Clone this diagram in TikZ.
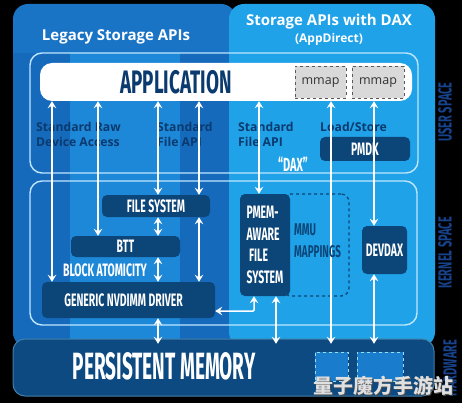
\documentclass[tikz,border=0pt]{standalone}
\usepackage{fontspec}
\setmainfont{Open Sans}
\newfontfamily\condf{Fira Sans}[FakeStretch=0.58]
\newfontfamily\condn{Fira Sans}[FakeStretch=0.5]
\newfontfamily\cjkf{Noto Sans CJK SC}
\usetikzlibrary{arrows.meta}
\definecolor{leftbase}{HTML}{1A74C6}
\definecolor{stripeA}{HTML}{166ABC}
\definecolor{stripeB}{HTML}{1E88D8}
\definecolor{rightbase}{HTML}{1FA2E8}
\definecolor{navy}{HTML}{0C4578}
\definecolor{pmcol}{HTML}{0D4A82}
\definecolor{labdark}{HTML}{0B3A6E}
\definecolor{framecol}{HTML}{BFE6FF}
\definecolor{sidecol}{HTML}{17428C}
\definecolor{pmbox}{HTML}{1A7CCC}
\tikzset{
  condtxt/.style={font=\condf\bfseries\fontsize{18}{21.5}\selectfont, text=white, inner sep=0pt},
  navybox/.style={fill=navy, rounded corners=5pt, inner sep=0pt, condtxt},
  frameline/.style={draw=framecol, line width=1.4pt, rounded corners=12pt},
  lbl/.style={font=\bfseries\fontsize{12.2}{15}\selectfont, text=labdark, align=left, inner sep=0pt, anchor=north west},
  titletxt/.style={font=\bfseries\fontsize{15}{17}\selectfont, text=white, inner sep=0pt},
  bidir/.style={draw=white, line width=1.5pt, {Stealth[length=7pt,width=8.5pt,inset=2.5pt]}-{Stealth[length=7pt,width=8.5pt,inset=2.5pt]}},
  mmapbox/.style={fill=black!15, draw=black!65, dashed, line width=0.9pt, minimum width=51pt, minimum height=32pt, inner sep=0pt, font=\fontsize{12.5}{14}\selectfont, text=black!80},
  pmdash/.style={fill=pmbox, draw=cyan!40, dashed, line width=1pt, inner sep=0pt},
  sidetxt/.style={font=\condf\bfseries\fontsize{19}{20}\selectfont, text=sidecol, rotate=90, inner sep=0pt}
}
\begin{document}
\begin{tikzpicture}[x=1pt,y=-1pt]
\fill[black] (0,0) rectangle (462,403);
\useasboundingbox (0,0) rectangle (462,403);
% left panel
\fill[leftbase, rounded corners=15pt] (13,4) rectangle (236,347);
\begin{scope}
  \clip[rounded corners=15pt] (13,4) rectangle (236,347);
  \fill[stripeA] (13,53) rectangle (70,347);
  \fill[stripeB] (70,53) rectangle (180,347);
  \fill[stripeA] (180,53) rectangle (236,347);
\end{scope}
% right panel
\fill[rightbase, rounded corners=15pt] (229,4) rectangle (435,347);
% persistent memory bar
\node[fill=pmcol, rounded corners=12pt, minimum width=421pt, minimum height=57pt, inner sep=0pt] (pm) at (223.5,367.5) {};
\draw[cyan!35!pmcol, line width=1pt, rounded corners=12pt] (13,339) rectangle (434,396);
\node[condtxt, font=\condn\bfseries\fontsize{38}{40}\selectfont] (pmtext) at (164,366) {PERSISTENT MEMORY};
\node[pmdash, minimum width=33pt, minimum height=29pt] (pmb1) at (331.5,366.5) {};
\node[pmdash, minimum width=46pt, minimum height=29pt] (pmb2) at (380,366.5) {};
% frames
\draw[frameline] (30,53) rectangle (418,173);
\draw[frameline] (30,181) rectangle (417,325);
% titles
\node[titletxt] (tleft) at (116,37) {Legacy Storage APIs};
\node[titletxt] (tright) at (329,22) {Storage APIs with DAX};
\node[titletxt, font=\bfseries\fontsize{12}{14}\selectfont] (tapp) at (329,39) {(AppDirect)};
% application bar
\node[fill=white, rounded corners=12pt, minimum width=372pt, minimum height=38pt, inner sep=0pt] (app) at (226,82) {};
\node[condtxt, text=labdark, font=\condf\bfseries\fontsize{32.5}{36}\selectfont] (apptext) at (176,82) {APPLICATION};
\node[mmapbox] (mm1) at (320.5,82.5) {mmap};
\node[mmapbox, minimum width=52pt] (mm2) at (378,82.5) {mmap};
% user space labels
\node[lbl] (l1) at (36,122) {Standard Raw\\Device Access};
\node[lbl] (l2) at (157,122) {Standard\\File API};
\node[lbl] (l3) at (238,122) {Standard\\File API};
\node[lbl] (l4) at (320,122) {Load/Store};
\node[navybox, minimum width=90pt, minimum height=24pt] (pmdk) at (365,149) {PMDK};
\node[condtxt, font=\condf\bfseries\fontsize{19}{20}\selectfont] (dax) at (293,164) {“DAX”};
% kernel boxes
\node[navybox, minimum width=108pt, minimum height=22pt] (fs) at (156,206) {FILE SYSTEM};
\node[navybox, minimum width=109pt, minimum height=21pt] (btt) at (125.5,246.5) {BTT};
\node[condtxt] (blk) at (105,270) {BLOCK ATOMICITY};
\node[navybox, minimum width=173pt, minimum height=36pt] (drv) at (128.5,300) {\hspace*{-10pt}GENERIC NVDIMM DRIVER};
\node[draw=navy, dashed, line width=1.3pt, rounded corners=8pt, minimum width=66pt, minimum height=102pt, inner sep=0pt] (mmu) at (316,245) {};
\node[navybox, align=left, minimum width=50pt, minimum height=102pt] (pmfs) at (265,245) {PMEM-\\AWARE\\\ FILE\\SYSTEM};
\node[navybox, minimum width=45pt, minimum height=48pt] (devdax) at (384.5,250) {DEVDAX};
% column coordinates
\coordinate (c52) at (52,0);
\coordinate (c98) at (98,0);
\coordinate (c158) at (158,0);
\coordinate (c199) at (199,0);
\coordinate (c254) at (254,0);
\coordinate (c259) at (259,0);
\coordinate (c276) at (276,0);
\coordinate (c331) at (331,0);
\coordinate (c374) at (374,0);
\coordinate (jn) at (254,311);
% arrows
\draw[bidir] (app.south -| c52) -- (drv.north -| c52);
\draw[bidir] (app.south -| c98) -- (btt.north -| c98);
\draw[bidir] (app.south -| c158) -- (fs.north -| c158);
\draw[bidir] (app.south -| c199) -- (fs.north -| c199);
\draw[bidir] (fs.south -| c158) -- (btt.north -| c158);
\draw[bidir] (btt.south -| c158) -- (drv.north -| c158);
\draw[bidir] (fs.south -| c199) -- (drv.north -| c199);
\draw[bidir, shorten >=-5pt] (drv.south -| c158) -- (pm.north -| c158);
\draw[bidir] (app.south -| c259) -- (pmfs.north -| c259);
\draw[bidir, shorten >=-5pt] (app.south -| c331) -- (pm.north -| c331);
\draw[bidir] (app.south -| c374) -- (devdax.north -| c374);
\draw[bidir, shorten >=-5pt] (devdax.south -| c374) -- (pm.north -| c374);
\draw[bidir, shorten >=-5pt] (pmfs.south -| c276) -- (pm.north -| c276);
\draw[bidir, rounded corners=1pt] (pmfs.south -| c254) -- (jn) -- (drv.east |- jn);
\node[condtxt, text=navy, align=left, anchor=west, font=\condf\bfseries\fontsize{17}{22}\selectfont] (mmutext) at (294,241) {MMU\\MAPPINGS};
% side labels
\node[sidetxt] (sus) at (445,112) {USER SPACE};
\node[sidetxt] (sks) at (445,253) {KERNEL SPACE};
\node[sidetxt] (shw) at (450,368) {HARDWARE};
% watermark
\node[font=\cjkf\bfseries\fontsize{20}{22}\selectfont, text=black!70, inner sep=0pt] (wm0) at (384,387) {量子魔方手游站};
\node[font=\cjkf\bfseries\fontsize{20}{22}\selectfont, text=black!12, inner sep=0pt] (wm) at (383,386) {量子魔方手游站};
\end{tikzpicture}
\end{document}
